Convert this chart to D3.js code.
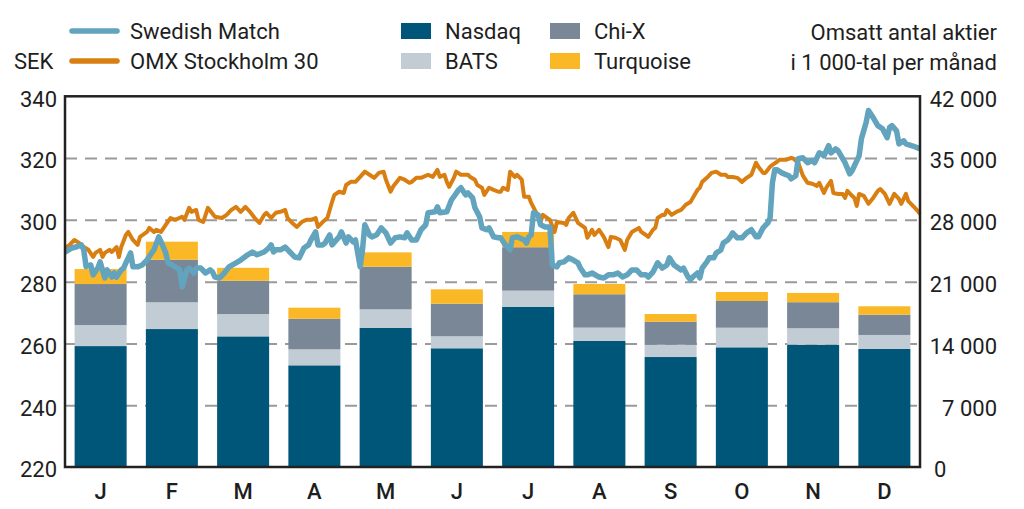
<!DOCTYPE html>
<html>
<head>
<meta charset="utf-8">
<script src="https://cdn.jsdelivr.net/npm/d3@7"></script>
<style>
  html, body { margin: 0; padding: 0; background: #fff; }
  svg { display: block; }
  text { font-family: Roboto, "DejaVu Sans Condensed", sans-serif; fill: #1e1e1e; }
</style>
</head>
<body>
<svg id="chart" width="1024" height="509"></svg>
<script>
// ---------- DATA ----------
const months = ["J","F","M","A","M","J","J","A","S","O","N","D"];
// Monthly traded shares, thousands
const nasdaq   = [13700, 15630, 14800, 11520, 15780, 13450, 18130, 14280, 12460, 13560, 13860, 13370];
const bats     = [ 2380,  3030,  2530,  1810,  2080,  1360,  1850,  1510,  1390,  2220,  1860,  1590];
const chix     = [ 4650,  4830,  3770,  3470,  4830,  3690,  4920,  3780,  2610,  3030,  2950,  2300];
const turq     = [ 1700,  2040,  1470,  1250,  1630,  1630,  1730,  1170,   870,  1020,  1050,   950];
const seriesNames = ["Nasdaq","BATS","Chi-X","Turquoise"];
const leftTicks = [220, 240, 260, 280, 300, 320, 340];
const rightTicks = [0, 7000, 14000, 21000, 28000, 35000, 42000];

// Daily prices (SEK) — day of year, value
const smDays = [0,3,5,7,8,9,11,12,14,15,17,18,20,21,22,24,25,26,28,29,31,33,35,37,38,40,41,43,44,47,49,50,52,53,55,56,58,60,62,63,64,66,68,70,73,75,78,80,82,85,87,88,89,90,92,94,96,98,100,102,104,105,107,108,110,111,113,114,117,118,120,121,123,124,126,127,128,130,131,133,135,137,139,141,143,145,146,148,150,152,154,155,158,159,160,163,165,166,168,169,171,172,174,175,177,178,180,181,183,185,186,188,190,191,193,196,197,198,199,200,202,203,205,207,208,210,211,213,215,217,219,220,222,223,225,228,230,232,234,236,238,240,242,244,246,248,249,251,253,255,257,258,260,263,264,266,267,268,270,271,272,274,275,277,278,280,281,283,284,285,287,289,291,293,295,296,298,300,301,302,303,304,306,307,309,310,312,313,315,317,319,320,322,323,324,326,327,329,330,332,333,335,336,339,340,342,343,345,347,349,351,352,353,355,356,358,359,362,364,365];
const smValues = [289.6,290.9,291.3,291.9,290.3,284.9,285.4,282.2,284.4,286.4,281.2,283.8,281.5,282.8,281.5,283.8,284.4,286.1,289.3,284.8,284.8,285.4,287.0,289.3,290.3,294.5,292.9,289.3,286.1,284.8,283.8,278.3,283.8,284.4,282.8,284.4,284.4,282.8,283.8,283.1,281.5,281.2,282.8,284.8,286.1,287.0,288.7,289.6,288.7,289.6,290.9,291.9,289.6,290.3,290.3,291.2,289.6,288.0,287.7,290.9,291.9,293.5,296.1,291.9,291.9,292.5,295.1,291.9,294.5,296.1,292.5,294.5,292.9,293.5,284.8,290.3,298.4,295.1,294.5,295.1,297.4,295.8,292.5,294.2,294.5,294.2,295.8,293.5,293.5,296.8,298.4,302.3,302.6,304.2,302.3,302.6,306.5,307.5,309.7,310.4,308.1,308.7,307.1,303.9,301.0,297.4,296.8,297.4,294.5,294.2,294.2,291.9,290.3,294.2,294.5,293.5,292.5,294.5,295.1,302.3,301.6,298.4,297.7,297.7,285.4,284.8,286.1,286.4,287.7,287.0,286.1,284.4,282.2,282.2,282.8,281.5,281.2,282.2,282.2,282.8,281.5,282.2,283.8,283.8,282.2,282.2,281.5,283.1,286.1,284.4,285.4,287.7,285.4,283.8,284.4,281.5,280.6,281.5,282.8,281.2,284.4,286.4,287.7,287.7,289.3,290.3,292.5,293.5,294.5,295.8,294.2,294.2,295.8,296.8,294.5,294.5,297.4,299.0,300.6,312.0,316.2,316.2,315.2,314.9,314.3,313.3,314.3,319.8,320.1,318.5,319.2,318.5,321.7,321.4,320.7,324.0,321.7,323.0,322.4,319.8,318.5,314.9,315.9,320.7,326.3,331.5,335.4,333.1,330.5,329.5,326.6,329.9,330.5,328.8,324.6,325.6,324.6,323.9,323.3,323.0];

const omxDays = [0,2,4,6,8,10,12,13,15,16,17,19,20,22,23,24,26,27,29,31,32,35,36,38,39,41,43,45,47,50,51,53,54,56,57,59,61,64,67,69,71,73,75,77,79,81,83,85,86,88,90,92,94,95,97,99,101,103,105,107,108,110,112,114,115,117,119,120,122,124,126,128,130,132,134,136,137,139,140,143,145,147,148,150,152,155,157,159,160,162,163,164,166,167,169,172,173,175,176,178,179,181,183,185,186,187,189,190,192,193,195,196,198,199,201,203,204,207,209,210,213,214,215,217,219,222,223,225,226,228,230,232,233,235,237,239,240,242,245,246,248,249,251,252,253,255,256,257,259,261,263,265,267,268,270,271,272,274,276,278,280,282,283,285,287,289,291,293,295,296,298,299,301,302,304,305,308,310,311,313,315,317,319,321,322,324,325,327,328,330,332,333,334,336,337,338,339,341,343,345,347,348,350,352,354,356,357,359,360,362,364,365];
const omxValues = [290.9,291.9,293.5,292.5,291.2,290.3,288.0,289.3,290.3,288.0,289.3,290.3,289.6,291.2,288.0,291.2,295.1,296.1,293.5,291.9,294.5,296.1,297.4,296.1,296.8,296.1,298.4,300.6,300.0,301.0,300.0,303.9,302.6,303.2,300.0,299.3,303.9,301.0,300.6,301.6,303.2,304.2,302.6,304.2,302.6,300.6,299.0,301.6,302.3,300.6,302.3,302.6,303.2,300.6,299.0,297.7,299.3,300.0,300.0,300.6,297.7,299.3,300.6,305.8,308.1,309.1,308.7,311.3,312.3,312.3,313.9,315.6,314.6,313.6,315.2,315.6,313.0,309.1,310.7,313.6,313.0,312.0,312.3,313.6,313.6,314.6,313.9,316.2,313.9,314.6,312.3,310.7,313.6,315.6,314.6,314.6,313.9,313.0,311.3,310.4,308.1,310.4,309.7,309.1,309.1,310.4,309.7,315.6,313.9,314.6,313.0,307.5,307.5,305.5,302.6,299.3,301.6,300.0,296.1,299.3,299.0,298.4,300.6,302.3,299.0,297.4,294.2,296.8,295.1,296.8,294.5,291.2,294.5,294.2,293.5,290.3,293.5,296.1,297.4,296.1,295.1,294.5,296.8,297.4,300.6,301.6,301.6,303.2,301.6,302.6,303.2,304.9,305.8,307.1,309.7,310.4,312.3,313.6,315.2,315.6,314.6,314.6,313.9,313.9,313.6,312.3,313.6,314.6,318.5,317.2,315.2,315.2,317.2,317.8,318.8,319.5,319.5,320.1,319.8,318.5,314.3,312.0,311.7,311.0,312.0,308.7,310.4,312.6,308.7,308.4,308.4,307.1,309.4,307.8,307.1,304.5,308.4,307.8,305.2,307.1,309.4,310.0,308.4,305.2,308.4,306.8,305.2,308.4,306.1,304.5,302.9,301.9];

// ---------- LAYOUT ----------
const svg = d3.select("#chart");
const L = 65, R = 920, T = 96.3, B = 467;
const colors = { "Nasdaq": "#005679", "BATS": "#c1ccd5", "Chi-X": "#7a8796", "Turquoise": "#fbb826" };
const smColor = "#62a3bd", omxColor = "#d97f12";
const FS = 22;

const x = d3.scaleBand().domain(d3.range(months.length)).range([L, R]).paddingInner(0.27).paddingOuter(0.135);
const xt = d3.scaleLinear().domain([0, 365]).range([L, R]);
const yL = d3.scaleLinear().domain([220, 340]).range([B, T]);
const yR = d3.scaleLinear().domain([0, 42000]).range([B, T]);

const loc = d3.formatLocale({ decimal: ",", thousands: " ", grouping: [3], currency: ["", ""] });
const fmt = loc.format(",d");

// Gridlines (dashed) behind bars
const grid = svg.append("g").attr("transform", `translate(${L},0)`)
  .call(d3.axisLeft(yL).tickValues(leftTicks.slice(1, -1)).tickSize(-(R - L)).tickFormat(""));
grid.select(".domain").remove();
grid.selectAll("line").attr("stroke", "#9a9a9a").attr("stroke-width", 2).attr("stroke-dasharray", "12,8");

// Stacked bars
const table = months.map((m, i) => ({ i, "Nasdaq": nasdaq[i], "BATS": bats[i], "Chi-X": chix[i], "Turquoise": turq[i] }));
const stacked = d3.stack().keys(seriesNames)(table);
svg.append("g").selectAll("g").data(stacked).join("g")
  .attr("fill", d => colors[d.key])
  .selectAll("rect").data(d => d).join("rect")
  .attr("x", d => x(d.data.i))
  .attr("width", x.bandwidth())
  .attr("y", d => yR(d[1]))
  .attr("height", d => yR(d[0]) - yR(d[1]));

// Lines
const line = d3.line().x(d => xt(d[0])).y(d => yL(d[1])).curve(d3.curveLinear);
const omx = omxDays.map((d, i) => [d, omxValues[i]]);
const sm = smDays.map((d, i) => [d, smValues[i]]);
svg.append("path").datum(omx).attr("d", line).attr("fill", "none")
  .attr("stroke", omxColor).attr("stroke-width", 4).attr("stroke-linejoin", "round");
svg.append("path").datum(sm).attr("d", line).attr("fill", "none")
  .attr("stroke", smColor).attr("stroke-width", 5.5).attr("stroke-linejoin", "round");

// Frame
svg.append("rect").attr("x", L).attr("y", T).attr("width", R - L).attr("height", B - T)
  .attr("fill", "none").attr("stroke", "#222").attr("stroke-width", 2.5);

// Left axis
const ax = svg.append("g").attr("transform", `translate(${L},0)`)
  .call(d3.axisLeft(yL).tickValues(leftTicks).tickSize(0).tickPadding(8).tickFormat(d3.format("d")));
ax.select(".domain").remove();
ax.selectAll("text").attr("font-size", FS).attr("font-family", null).attr("fill", "#1e1e1e").attr("dy", "0.45em");

// Right axis
const ar = svg.append("g").attr("transform", `translate(${997},0)`)
  .call(d3.axisLeft(yR).tickValues(rightTicks).tickSize(0).tickPadding(0).tickFormat(fmt));
ar.select(".domain").remove();
ar.selectAll("text").attr("font-size", FS).attr("font-family", null).attr("fill", "#1e1e1e").attr("dy", "0.45em")
  .attr("text-anchor", d => d === 0 ? "start" : "end")
  .attr("x", d => d === 0 ? -63 : 0);

// Bottom axis
const ab = svg.append("g").attr("transform", `translate(0,${B})`)
  .call(d3.axisBottom(x).tickSize(0).tickPadding(16).tickFormat(i => months[i]));
ab.select(".domain").remove();
ab.selectAll("text").attr("font-size", FS).attr("font-family", null).attr("fill", "#1e1e1e").attr("font-weight", 500);

// Legend
const lg = svg.append("g");
const lineLegend = [["Swedish Match", smColor, 31], ["OMX Stockholm 30", omxColor, 61]];
lineLegend.forEach(([name, c, y]) => {
  lg.append("line").attr("x1", 72).attr("x2", 117).attr("y1", y).attr("y2", y)
    .attr("stroke", c).attr("stroke-width", 5.5).attr("stroke-linecap", "round");
  lg.append("text").attr("x", 130).attr("y", y).attr("dy", "0.36em").attr("font-size", FS).text(name);
});
lg.append("text").attr("x", 14).attr("y", 61).attr("dy", "0.36em").attr("font-size", FS).text("SEK");
const boxLegend = [["Nasdaq", 401, 31], ["Chi-X", 550, 31], ["BATS", 401, 61], ["Turquoise", 550, 61]];
boxLegend.forEach(([name, bx, y]) => {
  lg.append("rect").attr("x", bx).attr("y", y - 8).attr("width", 30).attr("height", 16).attr("fill", colors[name]);
  lg.append("text").attr("x", bx + 44).attr("y", y).attr("dy", "0.36em").attr("font-size", FS).text(name);
});
lg.append("text").attr("x", 997).attr("y", 32).attr("dy", "0.36em").attr("text-anchor", "end").attr("font-size", FS).text("Omsatt antal aktier");
lg.append("text").attr("x", 997).attr("y", 62).attr("dy", "0.36em").attr("text-anchor", "end").attr("font-size", FS).text("i 1 000-tal per månad");
</script>
</body>
</html>
